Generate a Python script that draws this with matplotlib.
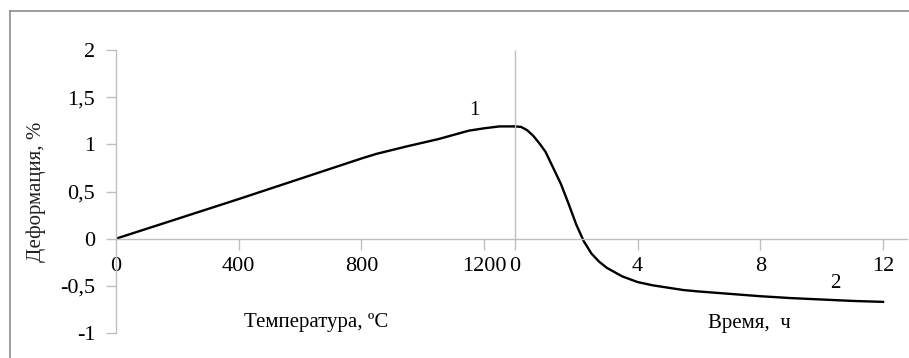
import matplotlib.pyplot as plt
from matplotlib.lines import Line2D

# --- данные ---
temperatura = [0, 200, 400, 600, 800, 850, 950, 1050, 1100, 1150, 1200, 1250, 1300]
def_nagrev = [0, 0.21, 0.42, 0.635, 0.85, 0.90, 0.98, 1.055, 1.10, 1.145, 1.17, 1.19, 1.19]

vremya = [0, 0.2, 0.4, 0.6, 0.8, 1.0, 1.25, 1.5, 1.75, 2.0, 2.25, 2.5, 2.75, 3.0, 3.5,
          4, 4.5, 5, 5.5, 6, 7, 8, 9, 10, 11, 12]
def_vyderzhka = [1.19, 1.185, 1.15, 1.09, 1.01, 0.92, 0.75, 0.58, 0.37, 0.15, -0.03,
                 -0.16, -0.245, -0.31, -0.40, -0.46, -0.495, -0.52, -0.545, -0.56,
                 -0.585, -0.61, -0.63, -0.645, -0.66, -0.67]

temp_ticks = [0, 400, 800, 1200]
time_ticks = [0, 4, 8, 12]
y_ticks = [-1, -0.5, 0, 0.5, 1, 1.5, 2]

# время откладывается после температуры: 1 ч = 100 единиц шкалы
T_END = 1300
H_SCALE = 100

GRAY = '#bfbfbf'
plt.rcParams['font.family'] = ['Liberation Serif', 'DejaVu Serif']

fig = plt.figure(figsize=(9.09, 3.58), dpi=100)
W, H = 909, 358
ax = fig.add_axes([116 / W, 25 / H, (907 - 116) / W, (333 - 50) / H])

x_time = [T_END + t * H_SCALE for t in vremya]
ax.plot(temperatura, def_nagrev, color='black', lw=1.7, solid_joinstyle='round')
ax.plot(x_time, def_vyderzhka, color='black', lw=1.7, solid_joinstyle='round')
ax.vlines(T_END, 0, 2, color=GRAY, lw=1)

ax.set_xlim(0, 2578)
ax.set_ylim(-1, 2)

for s in ['top', 'right']:
    ax.spines[s].set_visible(False)
ax.spines['bottom'].set_position(('data', 0))
for s in ['left', 'bottom']:
    ax.spines[s].set_color(GRAY)
    ax.spines[s].set_linewidth(1)

xt = temp_ticks + [T_END + t * H_SCALE for t in time_ticks]
xl = [str(v) for v in temp_ticks] + [str(v) for v in time_ticks]
ax.set_xticks(xt)
ax.set_xticklabels(xl)
ax.set_yticks(y_ticks)
ax.set_yticklabels([('%g' % v).replace('.', ',') for v in y_ticks])
ax.tick_params(axis='x', direction='out', length=8, width=1, color=GRAY,
               labelsize=16, pad=5)
ax.tick_params(axis='y', direction='out', length=7, width=1, color=GRAY,
               labelsize=16, pad=8)
ax.xaxis.get_major_ticks()[0].tick1line.set_visible(False)

ax.text(652, -0.89, 'Температура, ºС', fontsize=15, ha='center', va='center')
ax.text(2064, -0.9, 'Время,  ч', fontsize=15, ha='center', va='center')
ax.text(1167, 1.36, '1', fontsize=15, ha='center', va='center')
ax.text(2344, -0.47, '2', fontsize=15, ha='center', va='center')

fig.text(36 / W, 1 - 192 / H, 'Деформация, %', rotation=90, fontsize=15,
         ha='center', va='center', color='#222222')

# рамка рисунка
fig.add_artist(Line2D([10 / W, 10 / W], [0, 1 - 11 / H], transform=fig.transFigure,
                      color='#8c8c8c', lw=1.2))
fig.add_artist(Line2D([10 / W, 1], [1 - 11 / H, 1 - 11 / H], transform=fig.transFigure,
                      color='#8c8c8c', lw=1.2))

fig.savefig('out.png', dpi=100)
